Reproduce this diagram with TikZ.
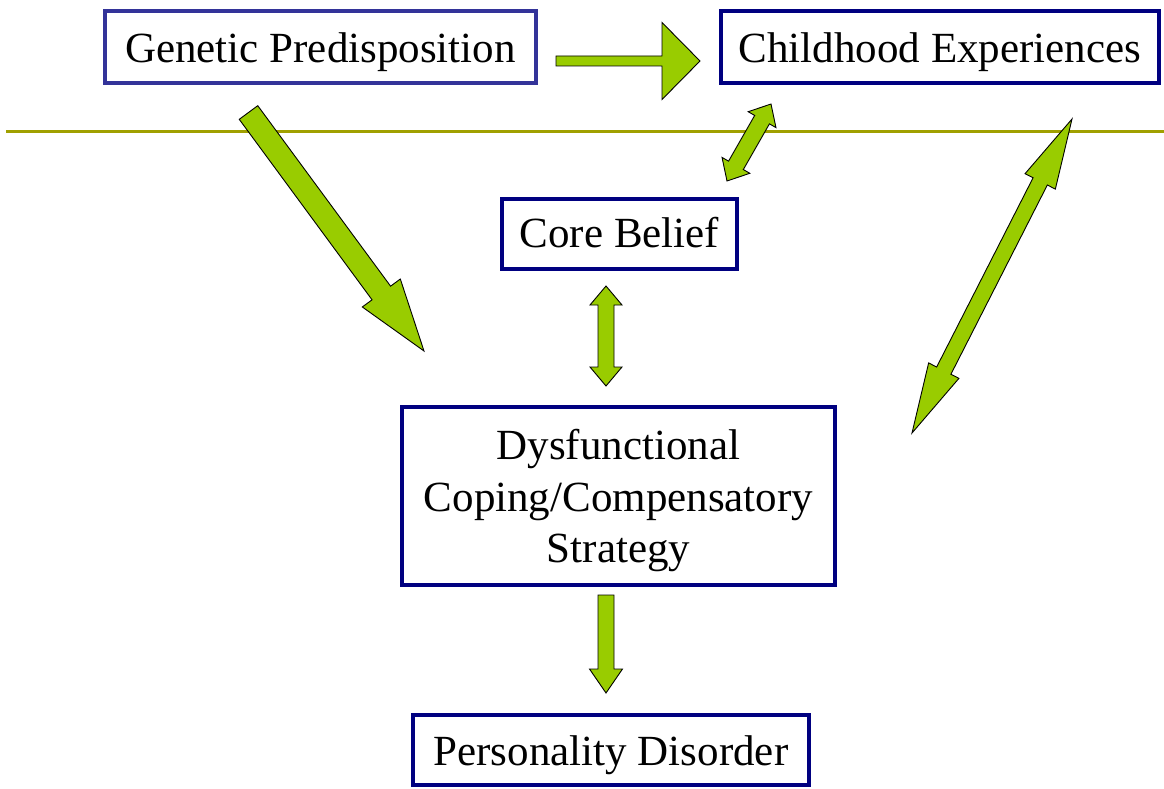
\documentclass[tikz,border=0pt]{standalone}
\usepackage{fontspec}
\setmainfont{Liberation Serif}
\definecolor{navybox}{HTML}{000080}
\definecolor{bluebox}{HTML}{333399}
\definecolor{arrowgreen}{HTML}{99CC00}
\definecolor{oliveline}{RGB}{160,160,0}
\newdimen\arrAx \newdimen\arrAy \newdimen\arrBx \newdimen\arrBy
% single block arrow: #1 tail coordinate, #2 tip coordinate, #3 shaft half width, #4 head half width, #5 head length
\newcommand\fatarrow[5]{%
  \pgfextractx{\arrAx}{\pgfpointanchor{#1}{center}}%
  \pgfextracty{\arrAy}{\pgfpointanchor{#1}{center}}%
  \pgfextractx{\arrBx}{\pgfpointanchor{#2}{center}}%
  \pgfextracty{\arrBy}{\pgfpointanchor{#2}{center}}%
  \pgfmathsetmacro\arrang{atan2(\arrBy-\arrAy,\arrBx-\arrAx)}%
  \pgfmathsetmacro\arrlen{veclen(\arrBx-\arrAx,\arrBy-\arrAy)}%
  \pgfmathsetmacro\arrhb{\arrlen-#5}%
  \draw[blockarrow,shift={(\arrAx,\arrAy)},rotate=\arrang]
    (0pt,-#3pt) -- (\arrhb pt,-#3pt) -- (\arrhb pt,-#4pt) -- (\arrlen pt,0pt)
    -- (\arrhb pt,#4pt) -- (\arrhb pt,#3pt) -- (0pt,#3pt) -- cycle;}
% double block arrow between two tips
\newcommand\fatdarrow[5]{%
  \pgfextractx{\arrAx}{\pgfpointanchor{#1}{center}}%
  \pgfextracty{\arrAy}{\pgfpointanchor{#1}{center}}%
  \pgfextractx{\arrBx}{\pgfpointanchor{#2}{center}}%
  \pgfextracty{\arrBy}{\pgfpointanchor{#2}{center}}%
  \pgfmathsetmacro\arrang{atan2(\arrBy-\arrAy,\arrBx-\arrAx)}%
  \pgfmathsetmacro\arrlen{veclen(\arrBx-\arrAx,\arrBy-\arrAy)}%
  \pgfmathsetmacro\arrhb{\arrlen-#5}%
  \draw[blockarrow,shift={(\arrAx,\arrAy)},rotate=\arrang]
    (0pt,0pt) -- (#5pt,-#4pt) -- (#5pt,-#3pt) -- (\arrhb pt,-#3pt) -- (\arrhb pt,-#4pt) -- (\arrlen pt,0pt)
    -- (\arrhb pt,#4pt) -- (\arrhb pt,#3pt) -- (#5pt,#3pt) -- (#5pt,#4pt) -- cycle;}
\begin{document}
\begin{tikzpicture}[x=1pt,y=-1pt,
  box/.style={draw=navybox,line width=4pt,fill=white,rectangle,inner sep=0pt,align=center,
    font=\fontsize{43}{51.5}\selectfont,text height=39.5pt,text depth=9.4pt},
  blockarrow/.style={draw=black,line width=0.9pt,fill=arrowgreen,line join=miter},
  divider/.style={draw=oliveline,line width=3pt}]
\useasboundingbox (0,0) rectangle (1164,789);
\fill[white] (0,0) rectangle (1164,789);
\coordinate (lineL) at (6,132);
\coordinate (lineR) at (1164,132);
\draw[divider] (lineL) -- (lineR);

\node[box,draw=bluebox,minimum width=431pt,minimum height=72pt] (gen) at (320.5,47) {Genetic Predisposition};
\node[box,minimum width=438pt,minimum height=72pt] (child) at (940,47) {Childhood Experiences};
\node[box,minimum width=235pt,minimum height=70pt,text height=36pt] (core) at (619.5,234) {Core Belief};
\node[box,minimum width=433pt,minimum height=178pt,text height=143pt,text depth=9.4pt] (dys) at (618.5,496) {Dysfunctional\\Coping/Compensatory\\Strategy};
\node[box,minimum width=396pt,minimum height=70pt,text height=40.5pt] (pers) at (611,750) {Personality Disorder};

\coordinate (a1s) at (556,61);   \coordinate (a1e) at (700,61);
\coordinate (a2s) at (248.5,112.5); \coordinate (a2e) at (424,351);
\coordinate (a3s) at (727,181);  \coordinate (a3e) at (771,104);
\coordinate (a4s) at (606,286);  \coordinate (a4e) at (606,386);
\coordinate (a5s) at (912,433);  \coordinate (a5e) at (1072,119);
\coordinate (a6s) at (606,595);  \coordinate (a6e) at (606,693);

\fatarrow{a1s}{a1e}{5}{38.5}{38}
\fatarrow{a2s}{a2e}{11.5}{23.6}{72}
\fatdarrow{a3s}{a3e}{8.5}{16}{18}
\fatdarrow{a4s}{a4e}{8}{16}{19}
\fatdarrow{a5s}{a5e}{8}{17}{70}
\fatarrow{a6s}{a6e}{8}{16.5}{24}
\end{tikzpicture}
\end{document}
